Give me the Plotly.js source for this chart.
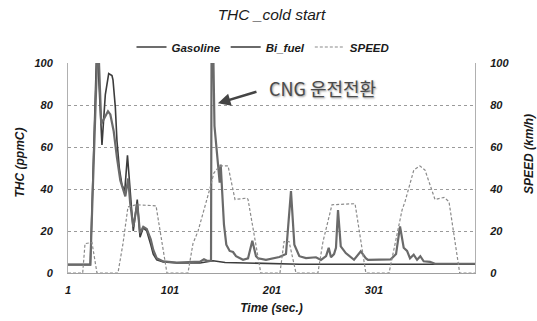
<!DOCTYPE html>
<html>
<head>
<meta charset="utf-8">
<script src="https://cdn.plot.ly/plotly-3.0.1.min.js"></script>
<style>
html,body{margin:0;padding:0;background:#fff;}
#chart{width:537px;height:321px;}
</style>
</head>
<body>
<div id="chart"></div>
<script>
// Time (sec.) for each series and values
const gasTime = [1, 22.9, 28.7, 30.4, 34.3, 37.6, 40.9, 44.1, 45.1, 47.4, 49, 51.3, 53.9, 56.6, 59.3, 61.8, 65, 68.9, 71.6, 74.8, 78.2, 82.1, 84.6, 88, 94.4, 107.6, 130.4, 143.2, 155, 228, 400];
const gasolineTHC = [4, 4, 100, 100, 61, 85, 95, 94, 92, 79, 63, 50, 42, 39, 56, 40, 20, 35, 17, 21.5, 20, 13.5, 9, 6.3, 5.2, 4.8, 4.8, 5.8, 5, 4.2, 4.2];

const biTime = [1, 22.9, 29.4, 31.4, 33.6, 40.2, 42.5, 45.8, 49, 52.3, 55.6, 57.2, 60, 62, 65, 68.9, 71.6, 74.8, 78.2, 82.1, 84.6, 88, 94.4, 107.6, 130.4, 134.3, 137.3, 141.2, 141.7, 143.6, 144.6, 149.7, 150.7, 152, 153.9, 156.2, 159.5, 162.8, 165.7, 172.6, 177.5, 181.7, 185.3, 187.3, 195.1, 208.2, 214.7, 219.6, 222.9, 227.8, 234.3, 244.1, 249, 254, 256.6, 258.8, 261.8, 263.7, 265.7, 268.4, 273.3, 281.4, 288, 292.9, 295.1, 317.4, 322.6, 326.5, 330.1, 333.4, 336.3, 339.9, 343.2, 346.4, 349.7, 355.9, 360.8, 400];
const bifuelTHC = [4, 4, 100, 100, 71, 77, 75.5, 67.5, 55, 44, 39, 36.5, 45, 33, 22, 33, 19, 22, 21, 16, 11, 7, 5.5, 5, 5.4, 6.5, 5.8, 5.8, 100, 100, 70, 43, 51.6, 39, 23, 13.5, 10.5, 10, 8, 6.3, 7, 15.4, 8, 7, 6.3, 7.6, 9, 39, 13.5, 8, 7.1, 7.5, 6.2, 8, 12, 7.5, 9, 12, 30, 12.7, 9.5, 6.3, 10.3, 7.1, 6.3, 6.5, 9, 22.2, 12, 10.5, 7, 8.7, 6.3, 8, 5.6, 5.3, 4.4, 4.4];

const speedTime = [1, 15.4, 17.7, 24.5, 29.4, 50, 54.9, 59.8, 67.7, 87.3, 98, 118.6, 123.5, 128.5, 140, 144, 148, 151, 157.9, 164.7, 176.5, 177.5, 190, 208.8, 212.8, 217.7, 224.5, 246, 251, 259.8, 282.4, 293, 315.7, 322.3, 328.5, 331.4, 340, 346, 351, 360.8, 369.6, 374.5, 385, 400];
const speed = [0, 0, 14, 14.5, 0, 0, 14, 31.5, 32.5, 32, 0, 0, 14, 20, 40, 47.6, 50, 51, 51, 35, 35.7, 35, 0, 0, 15, 15, 0, 0, 15, 32.5, 33, 0, 0, 16, 30, 34, 49, 51, 49, 35, 36, 34, 0, 0];

const xTickVals = [1, 101, 201, 301];
const yTickVals = [0, 20, 40, 60, 80, 100];

const font = 'Liberation Sans, Arial, sans-serif';
const tickFont = {family: font, size: 11, color: '#1a1a1a', weight: 'bold', style: 'italic'};
const titleFont = {family: font, size: 12, color: '#1a1a1a', weight: 'bold', style: 'italic'};

const traces = [
  {x: gasTime, y: gasolineTHC, name: 'Gasoline', type: 'scatter', mode: 'lines',
   line: {color: '#3c3c3c', width: 1.6}},
  {x: biTime, y: bifuelTHC, name: 'Bi_fuel', type: 'scatter', mode: 'lines',
   line: {color: '#6a6a6a', width: 2.2}},
  {x: speedTime, y: speed, name: 'SPEED', type: 'scatter', mode: 'lines', yaxis: 'y2',
   line: {color: '#8a8a8a', width: 1.2, dash: '3px,2px'}}
];

const W = 537, H = 321, L = 68, R = 62, T = 63, B = 48;
const px2x = p => (p - L) / (W - L - R);
const px2y = p => (H - B - p) / (H - B - T);

const layout = {
  width: W, height: H,
  margin: {l: L, r: R, t: T, b: B},
  paper_bgcolor: '#fff', plot_bgcolor: '#fff',
  showlegend: true,
  title: {text: 'THC _cold start', x: 0.5, xanchor: 'center', xref: 'paper',
          y: 1 - 15/321, yref: 'container', yanchor: 'middle',
          font: {family: font, size: 15.5, color: '#1a1a1a', style: 'italic'}},
  legend: {orientation: 'h', x: px2x(263), xanchor: 'center', y: px2y(47), yanchor: 'middle',
           font: {family: font, size: 11.5, color: '#1a1a1a', weight: 'bold', style: 'italic'},
           itemwidth: 30, tracegroupgap: 0, bgcolor: 'rgba(0,0,0,0)'},
  xaxis: {range: [1, 400], tickvals: xTickVals, ticktext: xTickVals.map(String),
          showgrid: false, zeroline: false, showline: true, linecolor: '#a0a0a0', linewidth: 1,
          ticks: '', ticklabelstandoff: 7, tickfont: tickFont,
          title: {text: 'Time (sec.)', standoff: 8, font: titleFont}},
  yaxis: {range: [0, 100], tickvals: yTickVals, showgrid: true, gridcolor: '#9a9a9a',
          griddash: 'dot', gridwidth: 1, zeroline: false, showline: true, linecolor: '#b0b0b0',
          ticks: '', ticklabelstandoff: 12, tickfont: tickFont},
  yaxis2: {range: [0, 100], tickvals: yTickVals, overlaying: 'y', side: 'right', showgrid: false,
           zeroline: false, showline: true, linecolor: '#b0b0b0', ticks: '',
           ticklabelstandoff: 12, tickfont: tickFont},
  annotations: [
    {x: px2x(19), y: px2y(162.5), xref: 'paper', yref: 'paper', text: 'THC (ppmC)',
     showarrow: false, textangle: -90, xanchor: 'center', yanchor: 'middle', font: titleFont},
    {x: px2x(529), y: px2y(154), xref: 'paper', yref: 'paper', text: 'SPEED (km/h)',
     showarrow: false, textangle: -90, xanchor: 'center', yanchor: 'middle', font: titleFont},
    {x: 148, y: 80.8, xref: 'x', yref: 'y', text: ' ', showarrow: true,
     ax: 40, ay: -12, arrowhead: 2, arrowsize: 1, arrowwidth: 2.5, arrowcolor: '#444',
     font: {size: 1}},
    {x: px2x(267), y: px2y(88), xref: 'paper', yref: 'paper', text: 'CNG 운전전환', showarrow: false,
     xanchor: 'left', yanchor: 'middle',
     font: {family: 'Noto Sans CJK KR, Noto Sans, sans-serif', size: 18, color: '#4a4a4a',
            shadow: '1px 1px 2px #999'}}
  ]
};

Plotly.newPlot('chart', traces, layout, {staticPlot: true, displayModeBar: false});
</script>
</body>
</html>
